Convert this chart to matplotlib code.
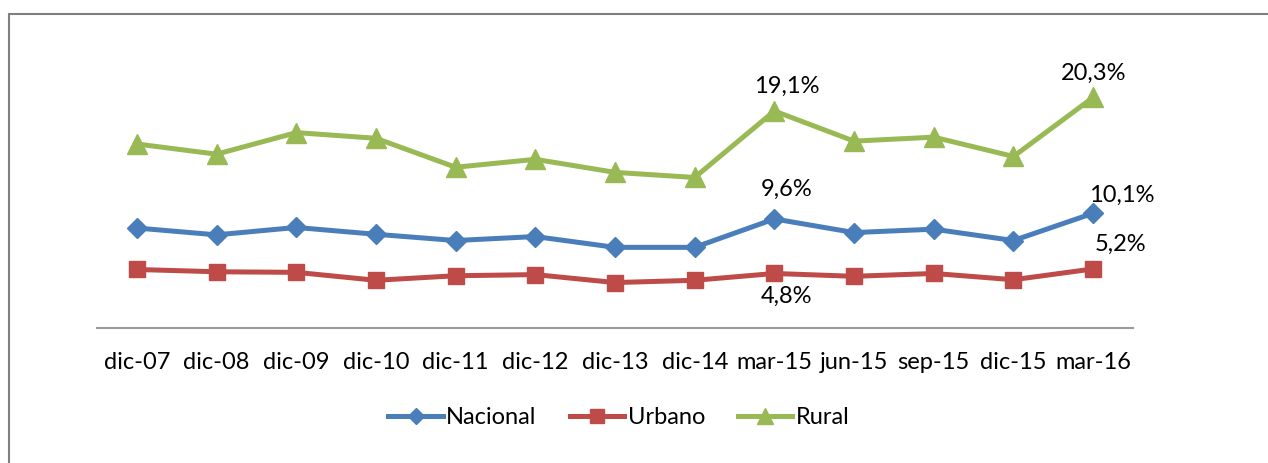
import matplotlib
matplotlib.use("Agg")
import matplotlib.pyplot as plt
from matplotlib.patches import Rectangle

categories = ["dic-07", "dic-08", "dic-09", "dic-10", "dic-11", "dic-12", "dic-13",
              "dic-14", "mar-15", "jun-15", "sep-15", "dic-15", "mar-16"]
nacional = [8.8, 8.2, 8.85, 8.25, 7.7, 8.05, 7.1, 7.1, 9.6, 8.4, 8.7, 7.7, 10.1]
urbano = [5.15, 4.95, 4.9, 4.2, 4.6, 4.7, 4.0, 4.2, 4.8, 4.55, 4.8, 4.25, 5.2]
rural = [16.2, 15.3, 17.2, 16.7, 14.15, 14.85, 13.7, 13.25, 19.1, 16.45, 16.8, 15.1, 20.3]

plt.rcParams['font.family'] = ['Lato', 'DejaVu Sans']
FS = 17

W, H = 1268, 463
fig = plt.figure(figsize=(W / 100, H / 100), dpi=100)
ax = fig.add_axes([97 / W, 135 / H, (1133 - 97) / W, (419 - 135) / H])

blue = "#4A7EBB"
red = "#BE4B48"
green = "#98B954"

x = list(range(len(categories)))
ax.plot(x, nacional, color=blue, lw=3.6, marker="D", ms=10, label="Nacional", zorder=3)
ax.plot(x, urbano, color=red, lw=3.6, marker="s", ms=12, label="Urbano", zorder=3)
ax.plot(x, rural, color=green, lw=3.6, marker="^", ms=14, label="Rural", zorder=3)

ax.set_xlim(-0.5, len(categories) - 0.5)
ax.set_ylim(0, 25)
ax.set_xticks(x)
ax.set_xticklabels(categories, fontsize=FS)
ax.tick_params(axis='x', length=0, pad=17)
ax.set_yticks([])
for s in ["top", "right", "left"]:
    ax.spines[s].set_visible(False)
ax.spines["bottom"].set_color("#9a9a9a")
ax.spines["bottom"].set_linewidth(1.5)

def fmt(v):
    return f"{v:.1f}".replace(".", ",") + "%"

ax.annotate(fmt(rural[8]), (8, rural[8]), xytext=(12, 25), textcoords="offset pixels",
            ha="center", va="center", fontsize=FS)
ax.annotate(fmt(rural[12]), (12, rural[12]), xytext=(0, 24), textcoords="offset pixels",
            ha="center", va="center", fontsize=FS)
ax.annotate(fmt(nacional[8]), (8, nacional[8]), xytext=(12, 30), textcoords="offset pixels",
            ha="center", va="center", fontsize=FS)
ax.annotate(fmt(nacional[12]), (12, nacional[12]), xytext=(29, 18), textcoords="offset pixels",
            ha="center", va="center", fontsize=FS)
ax.annotate(fmt(urbano[12]), (12, urbano[12]), xytext=(27, 25), textcoords="offset pixels",
            ha="center", va="center", fontsize=FS)
ax.annotate(fmt(urbano[8]), (8, urbano[8]), xytext=(12, -23), textcoords="offset pixels",
            ha="center", va="center", fontsize=FS)

leg = fig.legend(loc="center", bbox_to_anchor=(619 / W, 1 - 418 / H), ncol=3,
                 frameon=False, fontsize=FS, handlelength=2.3, columnspacing=1.4,
                 handletextpad=0.15, markerscale=0.85)

fig.patches.append(Rectangle((8.5 / W, -0.1), 1.2, 1 - 13.5 / H + 0.1,
                             transform=fig.transFigure, fill=False,
                             edgecolor="#808080", lw=1.5))

fig.savefig("out.png", dpi=100)
